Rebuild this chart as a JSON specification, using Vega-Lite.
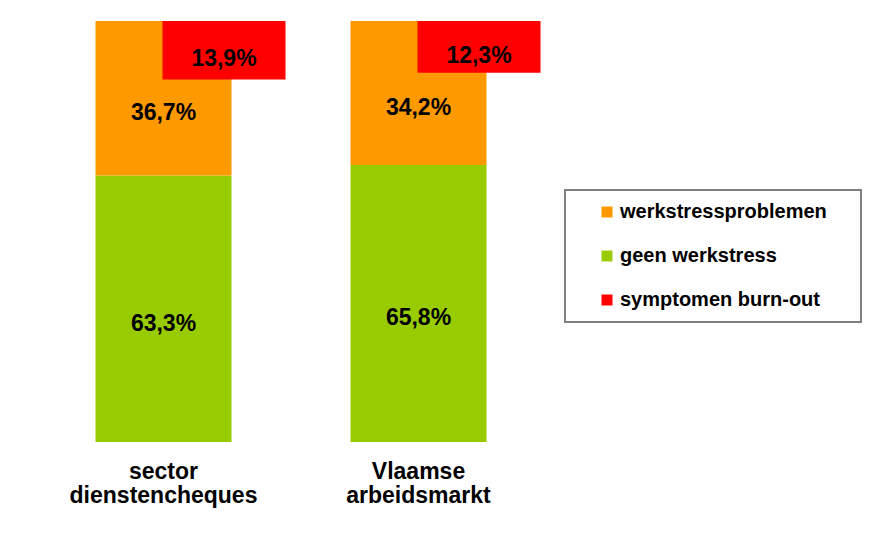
{
  "$schema": "https://vega.github.io/schema/vega-lite/v6.json",
  "width": 510,
  "height": 421,
  "autosize": {"type": "none"},
  "padding": {"left": 36, "top": 21, "right": 329, "bottom": 93},
  "config": {
    "view": {"stroke": null},
    "font": "Liberation Sans",
    "locale": {"number": {"decimal": ",", "thousands": ".", "grouping": [3], "currency": ["€", ""]}},
    "legend": {"strokeWidth": 2}
  },
  "data": {
    "values": [
      {"group": "sector dienstencheques", "category": "geen werkstress", "value": 0.633},
      {"group": "sector dienstencheques", "category": "werkstressproblemen", "value": 0.367},
      {"group": "sector dienstencheques", "category": "symptomen burn-out", "value": 0.139},
      {"group": "Vlaamse arbeidsmarkt", "category": "geen werkstress", "value": 0.658},
      {"group": "Vlaamse arbeidsmarkt", "category": "werkstressproblemen", "value": 0.342},
      {"group": "Vlaamse arbeidsmarkt", "category": "symptomen burn-out", "value": 0.123}
    ]
  },
  "encoding": {
    "x": {
      "field": "group",
      "type": "nominal",
      "sort": null,
      "scale": {"paddingInner": 0, "paddingOuter": 0},
      "axis": {
        "title": null,
        "domain": false,
        "ticks": false,
        "labelAngle": 0,
        "labelExpr": "split(datum.label, ' ')",
        "labelFontSize": 23,
        "labelFontWeight": "bold",
        "labelColor": "#000000",
        "labelLineHeight": 24,
        "labelPadding": 18,
        "labelBaseline": "top",
        "labelLimit": 400
      }
    },
    "color": {
      "field": "category",
      "type": "nominal",
      "scale": {
        "domain": ["werkstressproblemen", "geen werkstress", "symptomen burn-out"],
        "range": ["#FF9900", "#99CC00", "#FF0000"]
      },
      "legend": {
        "title": null,
        "orient": "none",
        "legendX": 529,
        "legendY": 169,
        "padding": 12,
        "symbolOffset": 20,
        "rowPadding": 24,
        "symbolType": "square",
        "symbolSize": 121,
        "symbolStrokeWidth": 0,
        "symbolOpacity": 1,
        "labelOffset": 3,
        "labelFontSize": 20,
        "labelFontWeight": "bold",
        "labelColor": "#000000",
        "labelExpr": "datum.label + '    \u200b'",
        "labelLimit": 400,
        "strokeColor": "#808080"
      }
    }
  },
  "layer": [
    {
      "transform": [{"filter": "datum.category !== 'symptomen burn-out'"}],
      "encoding": {
        "y": {
          "field": "value",
          "type": "quantitative",
          "stack": "zero",
          "scale": {"domain": [0, 1], "nice": false},
          "axis": null
        },
        "order": {"field": "category", "sort": "ascending"}
      },
      "layer": [
        {"mark": {"type": "bar", "width": 136}},
        {
          "mark": {"type": "text", "fontSize": 23, "fontWeight": "bold", "color": "#000000", "dy": 15},
          "encoding": {
            "y": {"field": "value", "type": "quantitative", "stack": "zero", "bandPosition": 0.5},
            "text": {"field": "value", "type": "quantitative", "format": ".1%"},
            "color": {"value": "#000000"}
          }
        }
      ]
    },
    {
      "transform": [{"filter": "datum.category === 'symptomen burn-out'"}],
      "encoding": {
        "y": {
          "field": "value",
          "type": "quantitative",
          "stack": "zero",
          "scale": {"domain": [0, 1], "nice": false, "reverse": true},
          "axis": null
        }
      },
      "layer": [
        {"mark": {"type": "bar", "width": 123, "xOffset": 60.5}},
        {
          "mark": {"type": "text", "fontSize": 23, "fontWeight": "bold", "color": "#000000", "dy": 9, "xOffset": 60.5},
          "encoding": {
            "y": {"field": "value", "type": "quantitative", "stack": "zero", "bandPosition": 0.5},
            "text": {"field": "value", "type": "quantitative", "format": ".1%"},
            "color": {"value": "#000000"}
          }
        }
      ]
    }
  ],
  "resolve": {"scale": {"y": "independent"}}
}
